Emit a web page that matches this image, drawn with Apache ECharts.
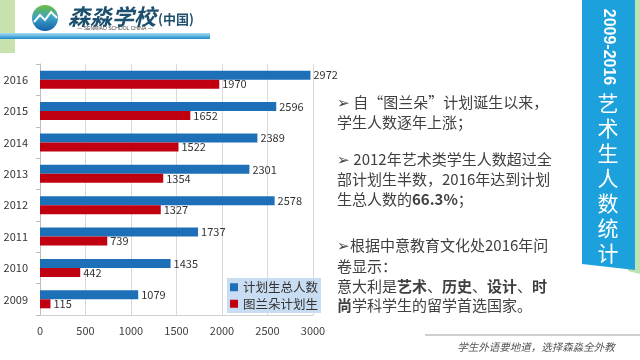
<!DOCTYPE html>
<html><head><meta charset="utf-8">
<script src="https://cdn.jsdelivr.net/npm/echarts@6/dist/echarts.min.js"></script>
<style>html,body{margin:0;padding:0;background:#fff}#c{width:640px;height:360px}</style>
</head><body><div id="c"></div>
<script>
const years = ['2009','2010','2011','2012','2013','2014','2015','2016'];
const totalPlan = [1079,1435,1737,2578,2301,2389,2596,2972];
const turandot = [115,442,739,1327,1354,1522,1652,1970];
const seriesNames = ['计划生总人数','图兰朵计划生'];
const xTicks = {min:0, max:3000, interval:500};

const CJK = "'Noto Sans CJK SC','Noto Sans',sans-serif";
const chart = echarts.init(document.getElementById('c'));
const red = '#b5173a';
const rich = {
  n:{fontSize:15,fontFamily:CJK,color:'#404040'},
  r:{fontSize:15,fontFamily:CJK,color:red,fontWeight:'bold'}
};
function txt(x,y,t){
  return {type:'text',x:x,y:y,style:{text:t,rich:rich,fontSize:15,fontFamily:CJK,fill:'#404040',verticalAlign:'middle'}};
}
chart.setOption({
  animation:false,
  textStyle:{fontFamily:CJK},
  grid:{left:40,right:327,top:64,bottom:45,containLabel:false},
  legend:{
    orient:'vertical',left:227,top:278,itemWidth:8,itemHeight:8,itemGap:4,
    icon:'rect',backgroundColor:'rgba(190,215,240,0.85)',padding:[3,3,3,3],
    textStyle:{fontSize:12.5,color:'#333',fontFamily:CJK},
    data:seriesNames
  },
  xAxis:{type:'value',min:xTicks.min,max:xTicks.max,interval:xTicks.interval,
    axisLine:{show:true,lineStyle:{color:'#d0d0d0'}},axisTick:{show:false},
    axisLabel:{fontSize:11,color:'#404040',margin:10,formatter:function(v){return String(v);}},
    splitLine:{lineStyle:{color:'#d9d9d9'}}},
  yAxis:{type:'category',data:years,
    axisLine:{show:true,lineStyle:{color:'#bfbfbf'}},
    axisTick:{show:true,length:4,lineStyle:{color:'#bfbfbf'}},
    axisLabel:{fontSize:11,color:'#333',margin:12}},
  series:[
    {name:seriesNames[0],type:'bar',data:totalPlan,barWidth:9,barGap:'0%',
     itemStyle:{color:'#1d6fb8'},
     label:{show:true,position:'right',distance:3,fontSize:11,color:'#333'}},
    {name:seriesNames[1],type:'bar',data:turandot,barWidth:9,barGap:'0%',
     itemStyle:{color:'#c00010'},
     label:{show:true,position:'right',distance:3,fontSize:11,color:'#333'}}
  ],
  graphic:[
    {type:'rect',shape:{x:0,y:0,width:15,height:53},style:{fill:'#c8e2ad'}},
    {type:'rect',shape:{x:0,y:33,width:210,height:6},style:{fill:new echarts.graphic.LinearGradient(0,0,0,1,[{offset:0,color:'#a9dcf3'},{offset:1,color:'#1b8ccc'}])}},
    {type:'circle',shape:{cx:45,cy:18,r:13},style:{fill:new echarts.graphic.LinearGradient(0,0,0,1,[{offset:0,color:'#6cbf3a'},{offset:0.5,color:'#3aa0c8'},{offset:1,color:'#1560a8'}])}},
    {type:'polyline',shape:{points:[[34,22],[40,15],[45,20],[51,12],[57,18]]},style:{stroke:'#fff',lineWidth:2,fill:null}},
    {type:'text',x:68,y:17,style:{text:'森淼学校',fontSize:22,fontWeight:'bold',fontStyle:'italic',fontFamily:CJK,fill:'#1d4f6e',verticalAlign:'middle'}},
    {type:'text',x:158,y:19,style:{text:'(中国)',fontSize:13,fontWeight:'bold',fontFamily:CJK,fill:'#1d4f6e',verticalAlign:'middle'}},
    {type:'text',x:115,y:29,style:{text:'— SENMIAO SCHOOL CHINA —',fontSize:5,fontFamily:'Liberation Sans',fill:'#444',align:'center',verticalAlign:'middle'}},
    txt(337,102,'➢ 自“图兰朵”计划诞生以来，'),
    txt(337,122,'学生人数逐年上涨；'),
    txt(337,159,'➢ 2012年艺术类学生人数超过全'),
    txt(337,179,'部计划生半数，2016年达到计划'),
    txt(337,199,'{n|生总人数的}{r|66.3%}{n|；}'),
    txt(337,245,'➢根据中意教育文化处2016年问'),
    txt(337,266,'卷显示：'),
    txt(337,286,'{n|意大利是}{r|艺术}{n|、}{r|历史}{n|、}{r|设计}{n|、}{r|时}'),
    txt(337,305,'{r|尚}{n|学科学生的留学首选国家。}'),
    {type:'polygon',shape:{points:[[628,0],[640,0],[640,274],[628,271]]},style:{fill:'#bfe3b0'}},
    {type:'polygon',shape:{points:[[582,0],[635,0],[635,270],[582,264]]},style:{fill:'#1da1dc'}},
    {type:'text',x:608,y:47,rotation:-Math.PI/2,style:{text:'2009-2016',fontSize:16,fontWeight:'bold',fontFamily:"'Liberation Sans',sans-serif",fill:'#fff',align:'center',verticalAlign:'middle'}},
    {type:'text',x:608,y:91,style:{text:'艺\n术\n生\n人\n数\n统\n计',fontSize:21,lineHeight:25,fontFamily:CJK,fill:'#fff',align:'center',verticalAlign:'top'}},
    {type:'rect',shape:{x:425,y:334,width:215,height:2},style:{fill:'#cfcfcf'}},
    {type:'text',x:536,y:347,style:{text:'学生外语要地道，选择森淼全外教',fontSize:10.5,fontStyle:'italic',fontFamily:CJK,fill:'#555',align:'center',verticalAlign:'middle'}}
  ]
});
</script></body></html>
